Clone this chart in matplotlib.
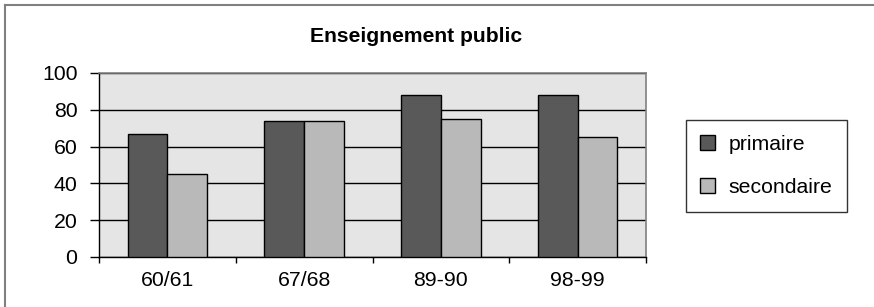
import numpy as np
import matplotlib.pyplot as plt
from matplotlib.lines import Line2D

plt.rcParams['font.family'] = ['Liberation Sans', 'DejaVu Sans']

# data
categories = ["60/61", "67/68", "89-90", "98-99"]
primaire = [67, 74, 88, 88]
secondaire = [45, 74, 75, 65]
series_names = ["primaire", "secondaire"]
title = "Enseignement public"

W, H = 874, 307
fig = plt.figure(figsize=(W / 100, H / 100), dpi=100)
fig.patch.set_facecolor("white")

# plot area in pixels: x 99..646, y 73..257
ax = fig.add_axes([99 / W, 1 - 257 / H, (646 - 99) / W, (257 - 73) / H])
ax.set_facecolor("#e5e5e5")

x = np.arange(len(categories))
bw = 0.29
ax.bar(x - bw / 2, primaire, bw, color="#595959", edgecolor="black",
       linewidth=1, label=series_names[0], zorder=3)
ax.bar(x + bw / 2, secondaire, bw, color="#b9b9b9", edgecolor="black",
       linewidth=1, label=series_names[1], zorder=3)

ax.set_xlim(-0.5, len(categories) - 0.5)
ax.set_ylim(0, 100)
ax.set_yticks(range(0, 101, 20))
ax.yaxis.grid(True, color="black", linewidth=1)
ax.set_axisbelow(True)

# category boundaries as major ticks, labels on minor ticks
ax.set_xticks(np.arange(-0.5, len(categories), 1.0))
ax.set_xticklabels([])
ax.set_xticks(x, minor=True)
ax.set_xticklabels(categories, minor=True)
ax.tick_params(axis="x", which="major", length=4.5, width=1, direction="out")
ax.tick_params(axis="x", which="minor", length=0, pad=10, labelsize=15.3)
ax.tick_params(axis="y", length=6.5, width=1, direction="out", pad=9, labelsize=15.3)

for side in ("left", "bottom"):
    ax.spines[side].set_color("black")
    ax.spines[side].set_linewidth(1)
for side in ("top", "right"):
    ax.spines[side].set_color("#808080")
    ax.spines[side].set_linewidth(1.2)

fig.text(416 / W, 1 - 36 / H, title, ha="center", va="center",
         fontsize=15.2, fontweight="bold")

leg = fig.legend(loc="center left", bbox_to_anchor=(686 / W, 1 - 166 / H),
                 fontsize=15.3, frameon=True, fancybox=False,
                 handlelength=0.7, handleheight=0.7, handletextpad=0.62,
                 labelspacing=1.15, borderpad=0.68, borderaxespad=0)
leg.get_frame().set_edgecolor("black")
leg.get_frame().set_linewidth(1)

# outer frame (only top and left visible in the crop)
fig.add_artist(Line2D([4.5 / W, 4.5 / W], [0, 1 - 5 / H], transform=fig.transFigure,
                      color="#808080", linewidth=1.5))
fig.add_artist(Line2D([4.5 / W, 1], [1 - 5 / H, 1 - 5 / H], transform=fig.transFigure,
                      color="#808080", linewidth=1.5))

fig.savefig("out.png", dpi=100)
